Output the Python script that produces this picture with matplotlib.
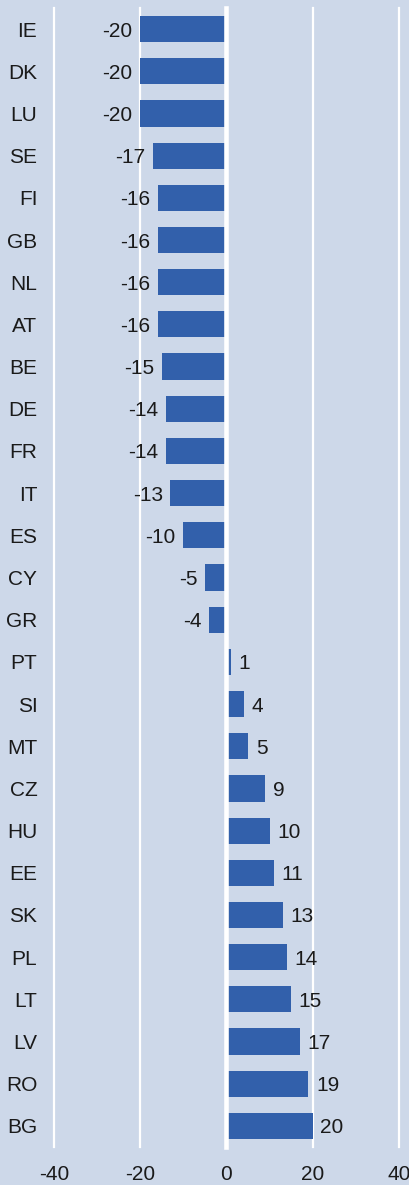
import matplotlib.pyplot as plt

# Country codes and values (top to bottom)
countries = ["IE", "DK", "LU", "SE", "FI", "GB", "NL", "AT", "BE", "DE", "FR", "IT",
             "ES", "CY", "GR", "PT", "SI", "MT", "CZ", "HU", "EE", "SK", "PL", "LT",
             "LV", "RO", "BG"]
values = [-20, -20, -20, -17, -16, -16, -16, -16, -15, -14, -14, -13,
          -10, -5, -4, 1, 4, 5, 9, 10, 11, 13, 14, 15,
          17, 19, 20]
x_ticks = [-40, -20, 0, 20, 40]

bg = "#cdd8e9"
bar_color = "#3260ab"
text_color = "#1a1a1a"
fs = 15

plt.rcParams["font.family"] = ["Liberation Sans", "DejaVu Sans"]

fig = plt.figure(figsize=(4.1, 11.85), dpi=100, facecolor=bg)
ax = fig.add_axes([54 / 410, 1 - 1147 / 1185, 345 / 410, 1139 / 1185])
ax.set_facecolor(bg)

pos = list(range(len(countries)))
bars = ax.barh(pos, values, height=0.62, color=bar_color, zorder=2)

# gridlines (zero line drawn on top of the bars)
for t in x_ticks:
    if t == 0:
        ax.axvline(t, color="white", lw=3.3, zorder=3, clip_on=False)
    else:
        ax.axvline(t, color="white", lw=1.6, zorder=1, clip_on=False)

labels = [str(v) for v in values]
anns = ax.bar_label(bars, labels=labels, padding=5.5, fontsize=fs, color=text_color)
for a in anns:
    a.set_verticalalignment("center_baseline")

ax.set_xlim(-40, 40)
ax.set_ylim(len(countries) - 0.5, -0.5)
ax.set_yticks(pos)
ax.set_yticklabels(countries, fontsize=fs, color=text_color, va="center_baseline")
ax.set_xticks(x_ticks)
ax.set_xticklabels([str(t) for t in x_ticks], fontsize=fs, color=text_color)
ax.tick_params(axis="y", length=0, pad=12)
ax.tick_params(axis="x", length=0, pad=13)
for s in ax.spines.values():
    s.set_visible(False)

fig.savefig("out.png", dpi=100, facecolor=bg)
